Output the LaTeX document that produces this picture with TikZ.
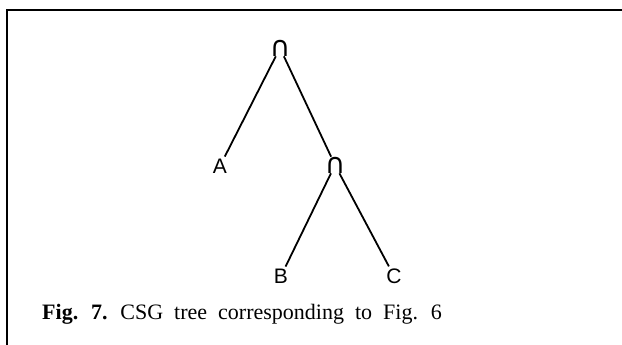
\documentclass[tikz,border=0pt]{standalone}
\usepackage{fontspec}
\setmainfont{Liberation Serif}
\newfontfamily\treefont{Liberation Sans}
\newfontfamily\symfont{DejaVu Sans}
\begin{document}
\begin{tikzpicture}[x=1pt, y=-1pt,
    every node/.style={inner sep=2pt},
    leaf/.style={font=\treefont\fontsize{21}{21}\selectfont},
    opnode/.style={font=\symfont\fontsize{28}{28}\selectfont, inner sep=0pt},
    edge/.style={line width=1.8pt}]
    \useasboundingbox (0,0) rectangle (622,345);
    \draw[line width=1.5pt] (7,345) -- (7,10) -- (622,10);

    \node[opnode] (root) at (280,48) {∩};
    \node[leaf] (a) at (220,166) {A};
    \node[opnode] (sub) at (335,165) {∩};
    \node[leaf] (b) at (281,276) {B};
    \node[leaf] (c) at (394,276) {C};

    \draw[edge] (root) -- (a);
    \draw[edge] (root) -- (sub);
    \draw[edge] (sub) -- (b);
    \draw[edge] (sub) -- (c);

    \node[anchor=base west, inner sep=0pt, font=\fontsize{22}{22}\selectfont] (caption) at (42,319)
        {\spaceskip=0.5em\textbf{Fig. 7.} CSG tree corresponding to Fig. 6};
\end{tikzpicture}
\end{document}
